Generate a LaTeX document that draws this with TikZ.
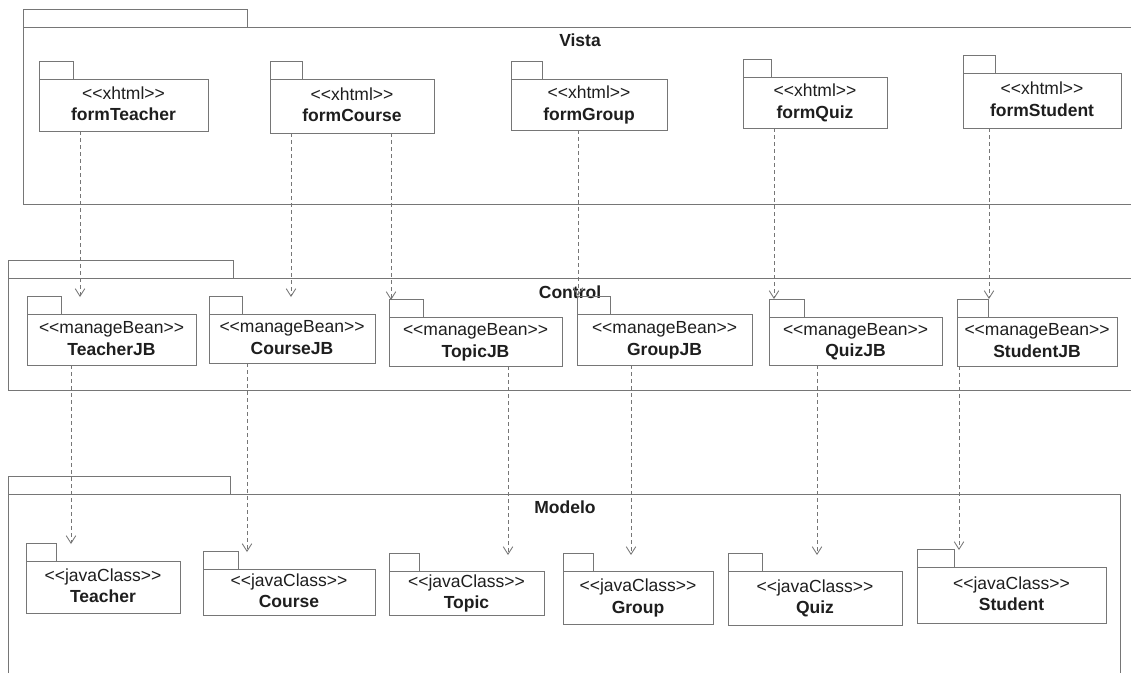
\documentclass[tikz,border=0pt]{standalone}
\usepackage{fontspec}
\setmainfont{Liberation Sans}
\usetikzlibrary{arrows.meta}
\definecolor{linegray}{RGB}{118,118,118}
\definecolor{inkgray}{RGB}{30,30,30}

% one UML package: name, x, y (top-left of body), width, height, tab width, stereotype, title
\newcommand\umlpkg[8]{%
  \node[pkg, minimum width=#4pt, minimum height=#5pt] (#1) at (#2,#3)
       {<{}<#7>{}>\\\textbf{#8}};
  \draw[frame] (#1.north west) rectangle ++(#6,-18);
}

\begin{document}
\begin{tikzpicture}[x=1pt,y=-1pt,
  frame/.style={draw=linegray, line width=1pt},
  pkg/.style={frame, anchor=north west, inner sep=0pt, outer sep=0pt,
              align=center, text=inkgray, text height=34.5pt, text depth=3.5pt,
              font=\fontsize{17.5}{21.5}\selectfont},
  dep/.style={draw=linegray, line width=0.85pt, dash pattern=on 4pt off 3pt,
              -{Straight Barb[length=7.5pt,width=9.5pt,line width=0.85pt]}},
  layer/.style={font=\bfseries\fontsize{17.5}{20}\selectfont, text=inkgray}
]
\useasboundingbox (0,0) rectangle (1131,673);
\fill[white] (0,0) rectangle (1131,673);

% ---- layer frames ----
\draw[frame] (23,9) rectangle (247,27);
\draw[frame] (1131,27) -- (23,27) -- (23,204) -- (1131,204);
\node[layer] (vistaLbl) at (580,40) {Vista};

\draw[frame] (8,260) rectangle (233,278);
\draw[frame] (1131,278) -- (8,278) -- (8,390) -- (1131,390);
\node[layer] (controlLbl) at (570,292) {Control};

\draw[frame] (8,476) rectangle (230,494);
\draw[frame] (8,673) -- (8,494) -- (1120,494) -- (1120,673);
\node[layer] (modeloLbl) at (565,507) {Modelo};

% ---- view forms ----
\umlpkg{fTeacher}{39}{79}{169}{52}{34}{xhtml}{formTeacher}
\umlpkg{fCourse}{270}{79}{164}{54}{32}{xhtml}{formCourse}
\umlpkg{fGroup}{511}{79}{156}{51}{31}{xhtml}{formGroup}
\umlpkg{fQuiz}{743}{77}{144}{51}{28}{xhtml}{formQuiz}
\umlpkg{fStudent}{963}{73}{158}{55}{32}{xhtml}{formStudent}

% ---- managed beans ----
\umlpkg{jTeacher}{27}{314}{169}{51}{34}{manageBean}{TeacherJB}
\umlpkg{jCourse}{209}{314}{166}{49}{33}{manageBean}{CourseJB}
\umlpkg{jTopic}{389}{317}{173}{49}{34}{manageBean}{TopicJB}
\umlpkg{jGroup}{577}{314}{175}{51}{33}{manageBean}{GroupJB}
\umlpkg{jQuiz}{769}{317}{173}{48}{35}{manageBean}{QuizJB}
\umlpkg{jStudent}{957}{317}{160}{49}{31}{manageBean}{StudentJB}

% ---- model classes ----
\umlpkg{cTeacher}{26}{561}{154}{52}{30}{javaClass}{Teacher}
\umlpkg{cCourse}{203}{569}{172}{46}{35}{javaClass}{Course}
\umlpkg{cTopic}{389}{571}{155}{44}{30}{javaClass}{Topic}
\umlpkg{cGroup}{563}{571}{150}{53}{30}{javaClass}{Group}
\umlpkg{cQuiz}{728}{571}{174}{54}{34}{javaClass}{Quiz}
\umlpkg{cStudent}{917}{567}{189}{56}{37}{javaClass}{Student}

% ---- dependency tips ----
\coordinate (tA1) at (80,297);
\coordinate (tA2) at (291,297);
\coordinate (tA3) at (391,300);
\coordinate (tA4) at (578,296);
\coordinate (tA5) at (774,299);
\coordinate (tA6) at (989,299);
\coordinate (tB1) at (71,544);
\coordinate (tB2) at (247,552);
\coordinate (tB3) at (508,555);
\coordinate (tB4) at (631,555);
\coordinate (tB5) at (817,555);
\coordinate (tB6) at (959,550);

% ---- view -> control ----
\draw[dep] (fTeacher.south -| tA1) -- (tA1);
\draw[dep] (fCourse.south -| tA2) -- (tA2);
\draw[dep] (fCourse.south -| tA3) -- (tA3);
\draw[dep] (fGroup.south -| tA4) -- (tA4);
\draw[dep] (fQuiz.south -| tA5) -- (tA5);
\draw[dep] (fStudent.south -| tA6) -- (tA6);

% ---- control -> model ----
\draw[dep] (jTeacher.south -| tB1) -- (tB1);
\draw[dep] (jCourse.south -| tB2) -- (tB2);
\draw[dep] (jTopic.south -| tB3) -- (tB3);
\draw[dep] (jGroup.south -| tB4) -- (tB4);
\draw[dep] (jQuiz.south -| tB5) -- (tB5);
\draw[dep] (jStudent.south -| tB6) -- (tB6);
\end{tikzpicture}
\end{document}
